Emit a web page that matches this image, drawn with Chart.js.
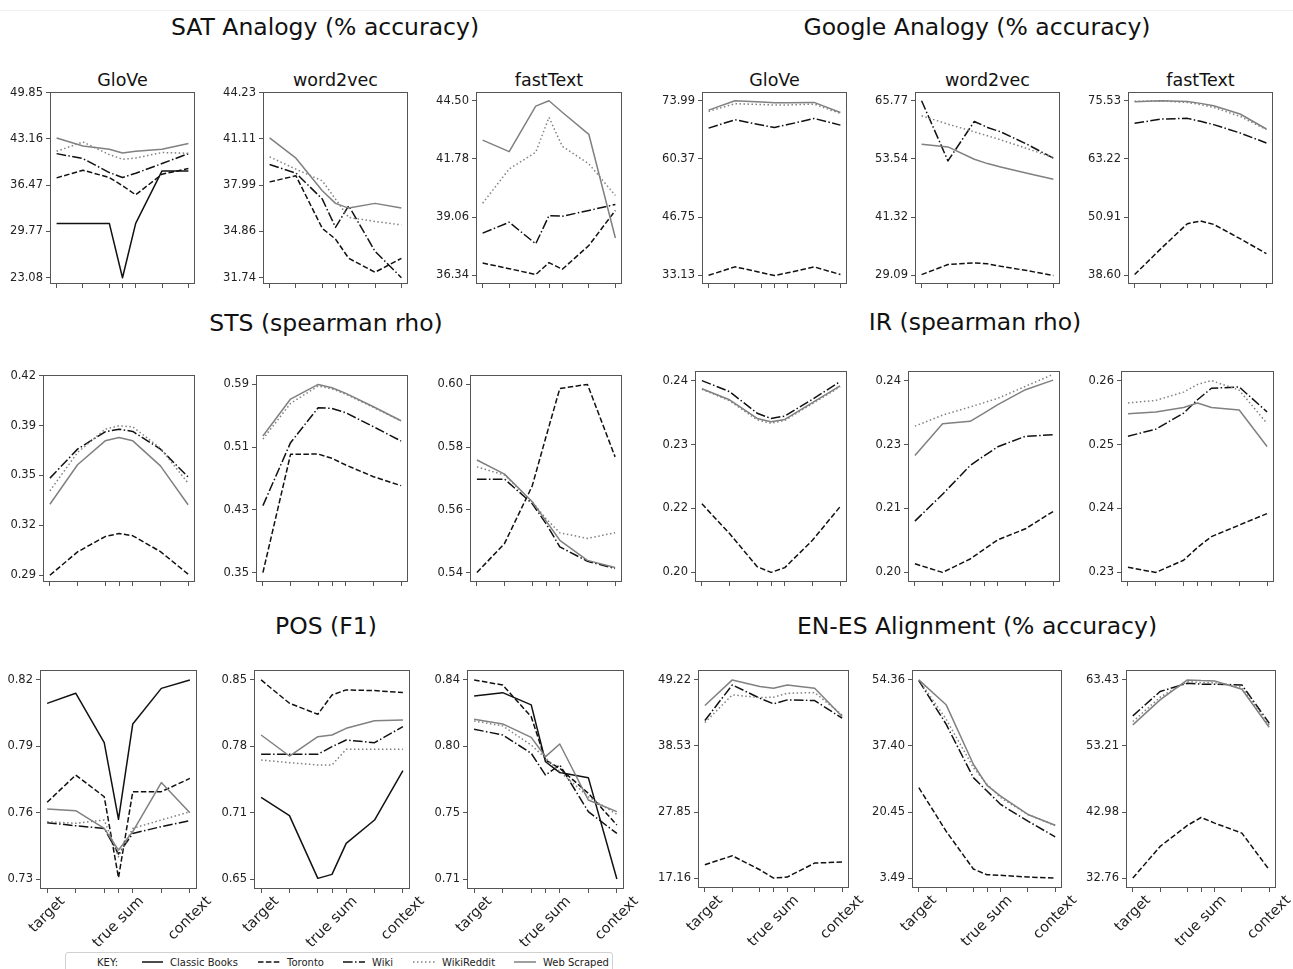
<!DOCTYPE html>
<html>
<head>
<meta charset="utf-8">
<script src="https://cdn.jsdelivr.net/npm/chart.js@4.4.1/dist/chart.umd.min.js"></script>
<style>
  body { margin: 0; background: #fff; width: 1293px; height: 969px; position: relative; overflow: hidden;
         font-family: 'DejaVu Sans', sans-serif; color: #111; }
  canvas { position: absolute; }
  .gt { position: absolute; font-size: 23.5px; line-height: 1; transform: translate(-50%, -50%); white-space: nowrap; }
  .st { position: absolute; font-size: 17.5px; line-height: 1; transform: translate(-50%, -50%); white-space: nowrap; }
  #topline { position: absolute; left: 0; top: 10px; width: 1293px; border-top: 1px solid #f0f0f0; }
  #key { position: absolute; left: 65px; top: 952px; width: 546px; height: 26px; border: 1px solid #d0d0d0; border-radius: 3px; }
  .kt { position: absolute; font-size: 10px; line-height: 12px; top: 4px; white-space: nowrap; color: #222; }
  .ks { position: absolute; top: 7px; }
</style>
</head>
<body>
<div id="topline"></div>
<div id="key"></div>
<script>
// x positions: mixing weight between target and context vectors
const XS = [0, 0.2, 0.4, 0.5, 0.6, 0.8, 1.0];
const X_LABEL_AT = [0, 0.5, 1.0];
const X_LABELS = ['target', 'true sum', 'context'];
const SERIES = ['Classic Books', 'Toronto', 'Wiki', 'WikiReddit', 'Web Scraped'];
const MODELS = ['GloVe', 'word2vec', 'fastText'];
const TASKS = ['SAT Analogy (% accuracy)', 'Google Analogy (% accuracy)', 'STS (spearman rho)',
               'IR (spearman rho)', 'POS (F1)', 'EN-ES Alignment (% accuracy)'];

// each panel: [Classic Books, Toronto, Wiki, WikiReddit, Web Scraped], null = not plotted
const SAT_GLOVE = [
  [30.94, 30.94, 30.94, 23.08, 30.94, 38.54, 38.54],
  [37.53, 38.64, 37.58, 36.40, 35.08, 38.06, 38.88],
  [41.04, 40.32, 38.30, 37.58, 38.20, 39.60, 41.04],
  [41.38, 42.73, 40.90, 40.23, 40.40, 41.20, 41.09],
  [43.31, 42.15, 41.67, 41.14, 41.38, 41.67, 42.49],
];
const SAT_GLOVE_TICKS = ['23.08', '29.77', '36.47', '43.16', '49.85'];

const SAT_W2V = [
  null,
  [38.21, 38.62, 35.07, 34.35, 33.05, 32.11, 33.05],
  [39.38, 38.80, 37.05, 35.14, 36.60, 33.52, 31.74],
  [39.90, 39.07, 38.28, 37.05, 35.81, 35.54, 35.30],
  [41.18, 39.81, 37.61, 36.76, 36.44, 36.76, 36.44],
];
const SAT_W2V_TICKS = ['31.74', '34.86', '37.99', '41.11', '44.23'];

const SAT_FT = [
  null,
  [36.91, 36.65, 36.37, 36.93, 36.62, 37.73, 39.37],
  [38.31, 38.82, 37.81, 39.13, 39.10, 39.37, 39.65],
  [39.71, 41.31, 42.09, 43.72, 42.37, 41.55, 40.07],
  [42.66, 42.12, 44.25, 44.50, 43.96, 42.93, 38.08],
];
const SAT_FT_TICKS = ['36.34', '39.06', '41.78', '44.50'];

const GOOGLE_GLOVE = [
  null,
  [33.13, 35.10, 33.77, 33.07, 33.70, 35.10, 33.30],
  [67.57, 69.53, 68.30, 67.73, 68.40, 69.84, 68.28],
  [71.49, 73.29, 73.10, 72.97, 73.00, 73.20, 71.00],
  [71.80, 73.99, 73.70, 73.50, 73.50, 73.60, 71.25],
];
const GOOGLE_GLOVE_TICKS = ['33.13', '46.75', '60.37', '73.99'];

const GOOGLE_W2V = [
  null,
  [29.23, 31.34, 31.69, 31.50, 30.98, 30.07, 29.02],
  [65.77, 53.12, 61.41, 60.15, 59.23, 56.63, 53.68],
  [62.61, 60.85, 59.23, 58.40, 57.55, 55.72, 53.82],
  [56.63, 56.07, 53.47, 52.56, 51.86, 50.52, 49.26],
];
const GOOGLE_W2V_TICKS = ['29.09', '41.32', '53.54', '65.77'];

const GOOGLE_FT = [
  null,
  [38.75, 44.24, 49.51, 50.08, 49.37, 46.35, 43.18],
  [70.75, 71.66, 71.80, 71.17, 70.47, 68.71, 66.60],
  [75.40, 75.50, 75.18, 74.70, 74.12, 72.22, 69.41],
  [75.32, 75.53, 75.39, 74.97, 74.48, 72.72, 69.55],
];
const GOOGLE_FT_TICKS = ['38.60', '50.91', '63.22', '75.53'];

const STS_GLOVE = [
  null,
  [0.2900, 0.3052, 0.3152, 0.3172, 0.3157, 0.3054, 0.2907],
  [0.3533, 0.3722, 0.3835, 0.3852, 0.3837, 0.3722, 0.3541],
  [0.3450, 0.3700, 0.3852, 0.3874, 0.3867, 0.3728, 0.3500],
  [0.3363, 0.3620, 0.3776, 0.3798, 0.3776, 0.3613, 0.3359],
];
const STS_GLOVE_TICKS = ['0.29', '0.32', '0.35', '0.39', '0.42'];

const STS_W2V = [
  null,
  [0.3500, 0.5008, 0.5012, 0.4957, 0.4872, 0.4723, 0.4609],
  [0.4354, 0.5157, 0.5603, 0.5594, 0.5539, 0.5360, 0.5178],
  [0.5203, 0.5658, 0.5879, 0.5843, 0.5775, 0.5607, 0.5433],
  [0.5242, 0.5713, 0.5900, 0.5858, 0.5785, 0.5615, 0.5437],
];
const STS_W2V_TICKS = ['0.35', '0.43', '0.51', '0.59'];

const STS_FT = [
  null,
  [0.5400, 0.5493, 0.5676, 0.5833, 0.5987, 0.6000, 0.5769],
  [0.5698, 0.5698, 0.5620, 0.5556, 0.5482, 0.5436, 0.5413],
  [0.5737, 0.5711, 0.5626, 0.5572, 0.5527, 0.5509, 0.5527],
  [0.5759, 0.5714, 0.5626, 0.5565, 0.5503, 0.5439, 0.5416],
];
const STS_FT_TICKS = ['0.54', '0.56', '0.58', '0.60'];

const IR_GLOVE = [
  null,
  [0.2143, 0.2081, 0.2012, 0.2000, 0.2010, 0.2067, 0.2137],
  [0.2400, 0.2377, 0.2332, 0.2321, 0.2326, 0.2361, 0.2398],
  [0.2382, 0.2358, 0.2318, 0.2311, 0.2317, 0.2352, 0.2387],
  [0.2383, 0.2360, 0.2321, 0.2314, 0.2319, 0.2354, 0.2389],
];
const IR_GLOVE_TICKS = ['0.20', '0.22', '0.23', '0.24'];

const IR_W2V = [
  null,
  [0.2018, 0.2000, 0.2028, 0.2048, 0.2068, 0.2091, 0.2127],
  [0.2107, 0.2163, 0.2223, 0.2243, 0.2262, 0.2284, 0.2287],
  [0.2305, 0.2328, 0.2345, 0.2354, 0.2363, 0.2388, 0.2413],
  [0.2244, 0.2310, 0.2315, 0.2332, 0.2350, 0.2381, 0.2401],
];
const IR_W2V_TICKS = ['0.20', '0.21', '0.23', '0.24'];

const IR_FT = [
  null,
  [0.2308, 0.2300, 0.2319, 0.2339, 0.2356, 0.2374, 0.2392],
  [0.2513, 0.2524, 0.2549, 0.2570, 0.2588, 0.2590, 0.2551],
  [0.2565, 0.2569, 0.2582, 0.2594, 0.2600, 0.2585, 0.2533],
  [0.2548, 0.2551, 0.2558, 0.2565, 0.2558, 0.2554, 0.2497],
];
const IR_FT_TICKS = ['0.23', '0.24', '0.25', '0.26'];

const POS_GLOVE = [
  [0.8094, 0.8140, 0.7917, 0.7570, 0.8001, 0.8162, 0.8200],
  [0.7647, 0.7770, 0.7672, 0.7306, 0.7695, 0.7695, 0.7755],
  [0.7555, 0.7541, 0.7529, 0.7413, 0.7506, 0.7537, 0.7564],
  [0.7559, 0.7552, 0.7567, 0.7401, 0.7529, 0.7567, 0.7604],
  [0.7617, 0.7609, 0.7529, 0.7431, 0.7514, 0.7736, 0.7600],
];
const POS_GLOVE_TICKS = ['0.73', '0.76', '0.79', '0.82'];

const POS_W2V = [
  [0.7321, 0.7137, 0.6507, 0.6547, 0.6858, 0.7093, 0.7589],
  [0.8500, 0.8266, 0.8155, 0.8349, 0.8400, 0.8393, 0.8373],
  [0.7753, 0.7753, 0.7753, 0.7830, 0.7897, 0.7870, 0.8031],
  [0.7696, 0.7669, 0.7646, 0.7646, 0.7803, 0.7803, 0.7803],
  [0.7947, 0.7736, 0.7930, 0.7947, 0.8014, 0.8091, 0.8098],
];
const POS_W2V_TICKS = ['0.65', '0.71', '0.78', '0.85'];

const POS_FT = [
  [0.8295, 0.8317, 0.8237, 0.7866, 0.7795, 0.7762, 0.7100],
  [0.8400, 0.8367, 0.8160, 0.7877, 0.7823, 0.7660, 0.7453],
  [0.8078, 0.8041, 0.7921, 0.7779, 0.7845, 0.7540, 0.7398],
  [0.8132, 0.8100, 0.7975, 0.7890, 0.7801, 0.7638, 0.7522],
  [0.8143, 0.8113, 0.8025, 0.7899, 0.7982, 0.7616, 0.7540],
];
const POS_FT_TICKS = ['0.71', '0.75', '0.80', '0.84'];

const ENES_GLOVE = [
  null,
  [19.32, 20.77, 18.51, 17.16, 17.32, 19.59, 19.75],
  [42.65, 48.41, 46.26, 45.34, 45.99, 45.88, 43.02],
  [42.32, 46.80, 46.36, 46.42, 47.06, 47.17, 43.56],
  [45.07, 49.22, 48.14, 47.87, 48.41, 47.87, 43.29],
];
const ENES_GLOVE_TICKS = ['17.16', '27.85', '38.53', '49.22'];

const ENES_W2V = [
  null,
  [26.70, 15.53, 5.82, 4.36, 4.19, 3.76, 3.49],
  [54.19, 43.00, 29.27, 25.84, 22.40, 18.11, 14.07],
  [54.36, 44.31, 31.85, 27.60, 24.12, 19.82, 16.99],
  [54.36, 48.00, 32.71, 27.30, 24.55, 19.82, 17.07],
];
const ENES_W2V_TICKS = ['3.49', '20.45', '37.40', '54.36'];

const ENES_FT = [
  null,
  [32.76, 37.66, 40.91, 42.14, 41.27, 39.72, 34.05],
  [57.86, 61.63, 62.91, 62.76, 62.76, 62.66, 56.73],
  [56.99, 60.75, 63.17, 63.00, 63.00, 62.30, 56.47],
  [56.47, 60.34, 63.43, 63.33, 63.28, 61.99, 56.11],
];
const ENES_FT_TICKS = ['32.76', '42.98', '53.21', '63.43'];

// ---- styles -------------------------------------------------------------
const SPINE = '#555';
const STYLE = [
  { color: '#111',    dash: [] },
  { color: '#111',    dash: [5.5, 2.4] },
  { color: '#111',    dash: [9.6, 2.4, 1.5, 2.4] },
  { color: '#808080', dash: [1.5, 2.5] },
  { color: '#808080', dash: [] },
];

// ---- layout (frame = plot box in page pixels: left, top, right, bottom) --
const PANELS = [
  { data: SAT_GLOVE,    ticks: SAT_GLOVE_TICKS,    frame: [50, 92, 195, 284],   title: 0 },
  { data: SAT_W2V,      ticks: SAT_W2V_TICKS,      frame: [263, 92, 408, 284],  title: 1 },
  { data: SAT_FT,       ticks: SAT_FT_TICKS,       frame: [476, 92, 622, 284],  title: 2 },
  { data: GOOGLE_GLOVE, ticks: GOOGLE_GLOVE_TICKS, frame: [702, 92, 847, 284],  title: 0 },
  { data: GOOGLE_W2V,   ticks: GOOGLE_W2V_TICKS,   frame: [915, 92, 1060, 284], title: 1 },
  { data: GOOGLE_FT,    ticks: GOOGLE_FT_TICKS,    frame: [1128, 92, 1273, 284], title: 2 },
  { data: STS_GLOVE,    ticks: STS_GLOVE_TICKS,    frame: [43, 375, 195, 582] },
  { data: STS_W2V,      ticks: STS_W2V_TICKS,      frame: [256, 375, 408, 582] },
  { data: STS_FT,       ticks: STS_FT_TICKS,       frame: [470, 375, 622, 582] },
  { data: IR_GLOVE,     ticks: IR_GLOVE_TICKS,     frame: [695, 371, 847, 582] },
  { data: IR_W2V,       ticks: IR_W2V_TICKS,       frame: [908, 371, 1060, 582] },
  { data: IR_FT,        ticks: IR_FT_TICKS,        frame: [1121, 371, 1274, 582] },
  { data: POS_GLOVE,    ticks: POS_GLOVE_TICKS,    frame: [40, 670, 197, 889],  xlabels: true },
  { data: POS_W2V,      ticks: POS_W2V_TICKS,      frame: [254, 670, 410, 889], xlabels: true },
  { data: POS_FT,       ticks: POS_FT_TICKS,       frame: [467, 670, 624, 889], xlabels: true },
  { data: ENES_GLOVE,   ticks: ENES_GLOVE_TICKS,   frame: [698, 670, 849, 888], xlabels: true },
  { data: ENES_W2V,     ticks: ENES_W2V_TICKS,     frame: [912, 670, 1062, 888], xlabels: true },
  { data: ENES_FT,      ticks: ENES_FT_TICKS,      frame: [1126, 670, 1276, 888], xlabels: true },
];
const GROUP_POS = [[325, 28], [977, 28], [326, 324], [975, 323], [326, 627], [977, 627]];
const SUBTITLE_Y = 81;
// legend: [sample line start, sample line end, text left] in page x
const KEY_LEFT = 65, KEY_TEXT_X = 97;
const KEY_POS = [[142, 163, 170], [258, 280, 287], [343, 365, 372], [413, 435, 442], [514, 536, 543]];

const AXW = 60, PADT = 10, PADR = 26;

// ---- titles ---------------------------------------------------------------
TASKS.forEach((t, i) => {
  const d = document.createElement('div');
  d.className = 'gt'; d.textContent = t;
  d.style.left = GROUP_POS[i][0] + 'px'; d.style.top = GROUP_POS[i][1] + 'px';
  document.body.appendChild(d);
});
PANELS.forEach(p => {
  if (p.title === undefined) return;
  const d = document.createElement('div');
  d.className = 'st'; d.textContent = MODELS[p.title];
  d.style.left = ((p.frame[0] + p.frame[2]) / 2) + 'px'; d.style.top = SUBTITLE_Y + 'px';
  document.body.appendChild(d);
});

// ---- legend ---------------------------------------------------------------
(function buildKey() {
  const key = document.getElementById('key');
  const k = document.createElement('div');
  k.className = 'kt'; k.textContent = 'KEY:'; k.style.left = (KEY_TEXT_X - KEY_LEFT - 1) + 'px';
  key.appendChild(k);
  SERIES.forEach((name, i) => {
    const [a, b, tx] = KEY_POS[i];
    const w = b - a;
    const s = document.createElementNS('http://www.w3.org/2000/svg', 'svg');
    s.setAttribute('class', 'ks'); s.setAttribute('width', w); s.setAttribute('height', 4);
    s.style.left = (a - KEY_LEFT - 1) + 'px';
    const ln = document.createElementNS('http://www.w3.org/2000/svg', 'line');
    ln.setAttribute('x1', 0); ln.setAttribute('x2', w); ln.setAttribute('y1', 2); ln.setAttribute('y2', 2);
    ln.setAttribute('stroke', STYLE[i].color); ln.setAttribute('stroke-width', 1.5);
    if (STYLE[i].dash.length) ln.setAttribute('stroke-dasharray', STYLE[i].dash.join(' '));
    s.appendChild(ln);
    key.appendChild(s);
    const t = document.createElement('div');
    t.className = 'kt'; t.textContent = name; t.style.left = (tx - KEY_LEFT - 1) + 'px';
    key.appendChild(t);
  });
})();

// ---- plot box + rotated x labels ------------------------------------------
const framePlugin = {
  id: 'frame',
  afterDraw(chart, args, opts) {
    const { ctx, chartArea: a } = chart;
    ctx.save();
    ctx.strokeStyle = SPINE;
    ctx.lineWidth = 1;
    ctx.strokeRect(a.left + 0.5, a.top + 0.5, a.right - a.left - 1, a.bottom - a.top - 1);
    if (opts.labels) {
      const xs = chart.scales.x;
      const fs = 14.5;
      ctx.font = fs + 'px "DejaVu Sans"';
      ctx.fillStyle = '#222';
      ctx.textAlign = 'center';
      ctx.textBaseline = 'middle';
      X_LABEL_AT.forEach((v, i) => {
        const w = ctx.measureText(X_LABELS[i]).width;
        const half = (w + fs) * Math.SQRT1_2 / 2;
        ctx.save();
        ctx.translate(xs.getPixelForValue(v), a.bottom + 5 + half);
        ctx.rotate(-Math.PI / 4);
        ctx.fillText(X_LABELS[i], 0, 0);
        ctx.restore();
      });
    }
    ctx.restore();
  }
};

function makePanel(p) {
  const [l, t, r, b] = p.frame;
  const bottomH = p.xlabels ? 62 : 8;
  const W = (r - l) + AXW + PADR;
  const H = PADT + (b - t) + bottomH;
  const cv = document.createElement('canvas');
  cv.width = W; cv.height = H;
  cv.style.left = (l - AXW) + 'px';
  cv.style.top = (t - PADT) + 'px';
  cv.style.width = W + 'px';
  cv.style.height = H + 'px';
  document.body.appendChild(cv);

  const n = p.ticks.length;
  const lo = parseFloat(p.ticks[0]), hi = parseFloat(p.ticks[n - 1]);
  const span = hi - lo;
  const tickVals = p.ticks.map((_, i) => lo + span * i / (n - 1));
  const [mb, mt] = n === 5 ? [0.034, 0.004] : [0.05, 0.05];

  const datasets = p.data.map((vals, i) => vals && {
    label: SERIES[i],
    data: XS.map((x, j) => ({ x, y: vals[j] })),
    borderColor: STYLE[i].color,
    borderDash: STYLE[i].dash,
    borderWidth: 1.5,
    borderJoinStyle: 'round',
    pointRadius: 0,
    tension: 0,
    fill: false,
    order: 4 - i,
  }).filter(Boolean);

  const tickGrid = { display: true, drawOnChartArea: false, drawTicks: true, tickLength: 4, color: SPINE, lineWidth: 1 };

  new Chart(cv.getContext('2d'), {
    type: 'line',
    data: { datasets },
    options: {
      responsive: false,
      animation: false,
      devicePixelRatio: 1,
      layout: { padding: { left: 0, top: PADT, right: PADR, bottom: 0 } },
      plugins: { legend: { display: false }, tooltip: { enabled: false }, frame: { labels: !!p.xlabels } },
      scales: {
        x: {
          type: 'linear', min: -0.05, max: 1.05, bounds: 'data',
          afterBuildTicks: s => { s.ticks = XS.map(v => ({ value: v })); },
          afterFit: s => { s.height = bottomH; s.paddingLeft = 0; s.paddingRight = 0; },
          ticks: { display: false },
          grid: tickGrid,
          border: { display: false },
        },
        y: {
          type: 'linear', min: lo - mb * span, max: hi + mt * span, bounds: 'data',
          afterBuildTicks: s => { s.ticks = tickVals.map(v => ({ value: v })); },
          afterFit: s => { s.width = AXW; s.paddingTop = 0; s.paddingBottom = 0; },
          ticks: {
            autoSkip: false, padding: 3, color: '#222',
            font: { family: 'DejaVu Sans', size: 11.5 },
            callback: (v, i) => p.ticks[i],
          },
          grid: tickGrid,
          border: { display: false },
        },
      },
    },
    plugins: [framePlugin],
  });
}

PANELS.forEach(makePanel);
</script>
</body>
</html>
